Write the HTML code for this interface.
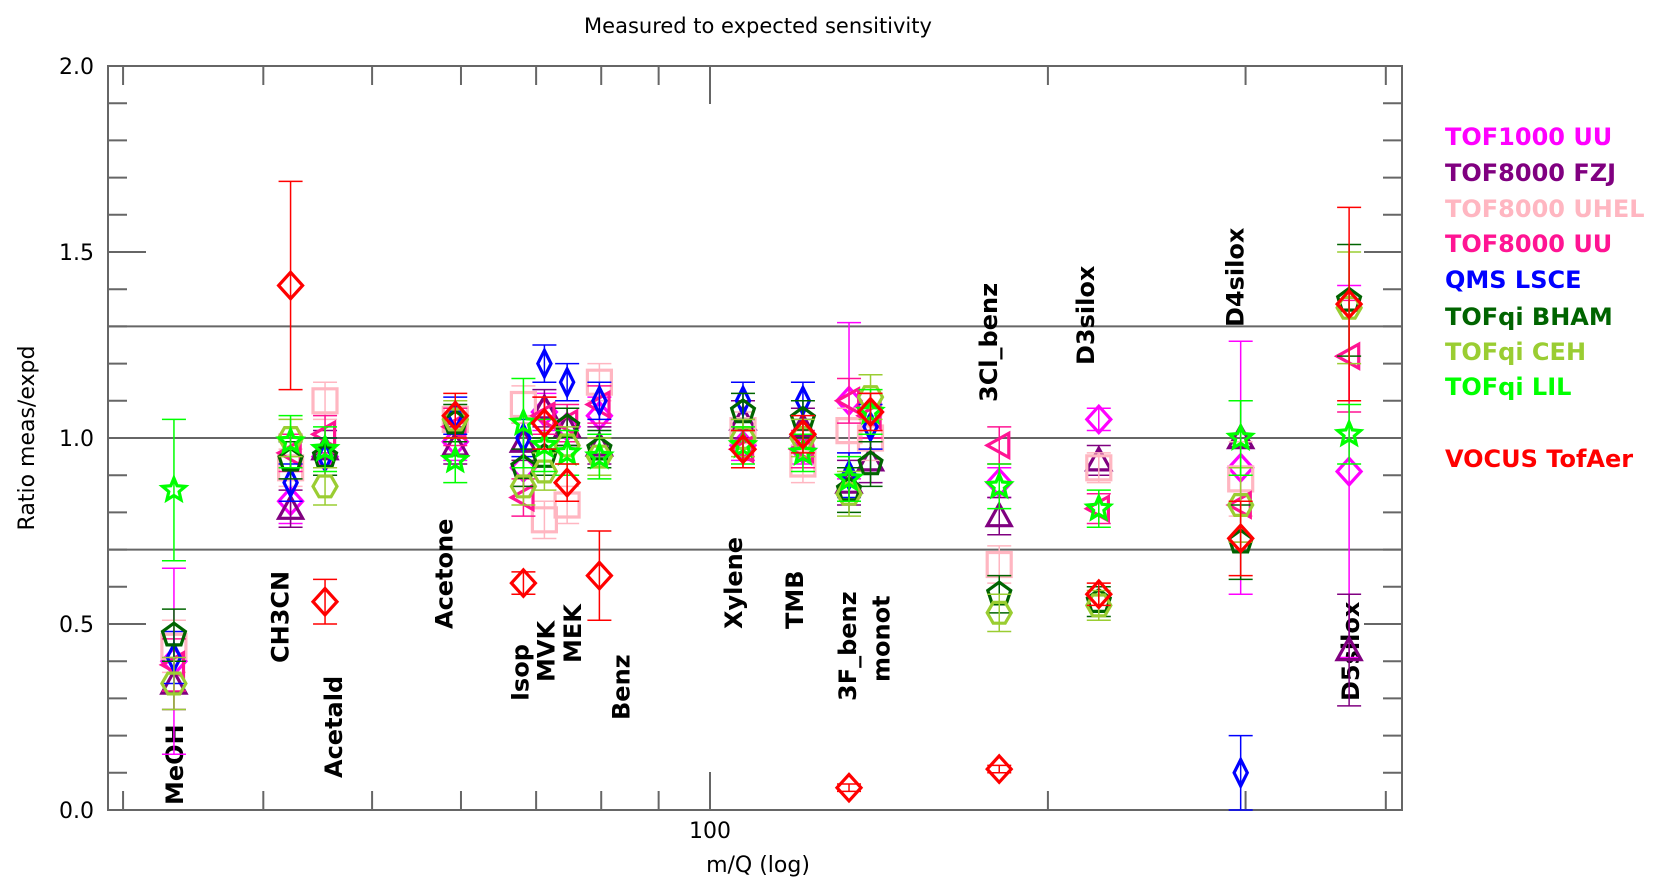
<!DOCTYPE html>
<html><head><meta charset="utf-8"><style>
html,body{margin:0;padding:0;background:#fff;}
svg{display:block;font-family:"DejaVu Sans","Liberation Sans",sans-serif;}
</style></head><body>
<svg id="chart" width="1663" height="888" viewBox="0 0 1663 888" xmlns="http://www.w3.org/2000/svg">
<text x="758" y="33" text-anchor="middle" font-size="21">Measured to expected sensitivity</text>
<g id="axes"></g>
<g id="labels"></g>
<g id="marks"></g>
<g id="legend"></g>
<text transform="translate(34,438) rotate(-90)" text-anchor="middle" font-size="22">Ratio meas/expd</text>
<text x="758" y="872" text-anchor="middle" font-size="22">m/Q (log)</text>
</svg>
<script>
const compounds=["MeOH","CH3CN","Acetald","Acetone","Isop","MVK","MEK","Benz","Xylene","TMB","3F_benz","monot","3Cl_benz","D3silox","D4silox","D5silox"];
const massQ=[33.3,42.3,45.4,59.3,68.2,71.2,74.6,79.7,107,121,133,139,181,222,297,371];
const seriesNames=["TOF1000 UU","TOF8000 FZJ","TOF8000 UHEL","TOF8000 UU","QMS LSCE","TOFqi BHAM","TOFqi CEH","TOFqi LIL","VOCUS TofAer"];
const tof1000UU=[0.40,0.83,0.95,0.99,0.92,1.07,1.03,1.06,0.98,0.97,1.10,1.07,0.88,1.05,0.92,0.91];
const tof8000FZJ=[0.34,0.81,0.97,0.98,0.99,1.08,1.03,0.98,1.05,1.03,0.88,0.94,0.79,0.94,1.00,0.43];
const tof8000UHEL=[0.44,0.92,1.10,1.05,1.09,0.78,0.82,1.15,1.02,0.93,1.02,1.00,0.66,0.92,0.89,null];
const tof8000UU=[0.39,0.96,1.01,1.03,0.84,1.06,1.04,1.09,0.97,0.97,1.10,1.06,0.98,0.81,0.82,1.22];
const qmsLSCE=[0.41,0.88,0.95,1.06,1.00,1.20,1.15,1.10,1.10,1.10,0.90,1.03,null,null,0.10,null];
const tofqiBHAM=[0.47,0.94,0.95,1.04,0.92,0.95,1.03,0.97,1.07,1.05,0.86,0.93,0.58,0.56,0.72,1.37];
const tofqiCEH=[0.34,1.00,0.87,1.05,0.87,0.91,0.98,0.95,1.00,1.00,0.85,1.11,0.53,0.55,0.82,1.35];
const tofqiLIL=[0.86,0.99,0.97,0.94,1.04,0.98,0.96,0.95,0.98,0.96,0.89,1.07,0.87,0.81,1.00,1.01];
const vocus=[null,1.41,0.56,1.06,0.61,1.04,0.88,0.63,0.97,1.01,0.06,1.07,0.11,0.58,0.73,1.36];
const errTof1000UU=[0.25,0.06,0.05,0.05,0.05,0.05,0.05,0.05,0.04,0.04,0.21,0.05,0.04,0.03,0.34,0.50];
const errVocus=[0,0.28,0.06,0.06,0.03,0.07,0.05,0.12,0.05,0.05,0.01,0.05,0.01,0.03,0.10,0.26];
const errOther=[0.07,0.05,0.05,0.05,0.05,0.05,0.05,0.05,0.05,0.05,0.06,0.06,0.05,0.04,0.1,0.15];
const errLIL=[0.19,0.07,0.06,0.06,0.12,0.07,0.06,0.06,0.05,0.05,0.06,0.06,0.06,0.05,0.10,0.08];
const yTicks=[0,0.5,1.0,1.5,2.0];
const xMinorTicks=[30,40,50,60,70,80,90,200,300,400];

const NS="http://www.w3.org/2000/svg";
const X0=108,X1=1402,Y0=810,Y1=66;
function xs(m){return 710+1122.5*(Math.log10(m)-2);}
function ys(v){return Y0-372*v;}
function el(tag,attrs,parent){const e=document.createElementNS(NS,tag);for(const k in attrs)e.setAttribute(k,attrs[k]);parent.appendChild(e);return e;}
const axes=document.getElementById('axes');
const gray="#666";
// frame
const fr=el('rect',{x:X0,y:Y1,width:X1-X0,height:Y0-Y1,fill:'none',stroke:gray,'stroke-width':2},axes);


// ref lines
[0.7,1.0,1.3].forEach(v=>{const l=el('line',{x1:X0,x2:X1,y1:ys(v),y2:ys(v),stroke:gray,'stroke-width':2},axes);

});
// y ticks
for(let i=0;i<=20;i++){const v=i/10;const major=(i%5===0);const len=major?38:19;
 el('line',{x1:X0,x2:X0+len,y1:ys(v),y2:ys(v),stroke:gray,'stroke-width':2},axes);
 el('line',{x1:X1-len,x2:X1,y1:ys(v),y2:ys(v),stroke:gray,'stroke-width':2},axes);}
yTicks.forEach(v=>{const t=el('text',{x:94,y:ys(v)+8,'text-anchor':'end','font-size':22},axes);t.textContent=v.toFixed(1);

});
// x ticks
xMinorTicks.forEach(m=>{el('line',{x1:xs(m),x2:xs(m),y1:Y0,y2:Y0-19,stroke:gray,'stroke-width':2},axes);
 el('line',{x1:xs(m),x2:xs(m),y1:Y1,y2:Y1+19,stroke:gray,'stroke-width':2},axes);});
el('line',{x1:xs(100),x2:xs(100),y1:Y0,y2:Y0-38,stroke:gray,'stroke-width':2},axes);
el('line',{x1:xs(100),x2:xs(100),y1:Y1,y2:Y1+38,stroke:gray,'stroke-width':2},axes);
const xl=el('text',{x:xs(100),y:838,'text-anchor':'middle','font-size':22},axes);xl.textContent="100";



// compound labels (bottom y in displayed-px estimates scaled)
const labelBottom=[805,663,778,629,701,682,663,720,629,629,701,682,402,365,327,701];
const labelDx=[0,-11,8,-12,-4,1,5,21,-10,-9,-2,10,-11,-14,-6,1];
const lg=document.getElementById('labels');
compounds.forEach((c,i)=>{const x=xs(massQ[i])+labelDx[i]+9;const t=el('text',{transform:`translate(${x},${labelBottom[i]}) rotate(-90)`,'font-size':24,'font-weight':'bold'},lg);t.textContent=c;

});

// markers
const colors=["#ff00ff","#800080","#ffb6c1","#ff1493","#0000ff","#006400","#9acd32","#00ff00","#ff0000"];
const data=[tof1000UU,tof8000FZJ,tof8000UHEL,tof8000UU,qmsLSCE,tofqiBHAM,tofqiCEH,tofqiLIL,vocus];
const errs=[errTof1000UU,errOther,errOther,errOther,errOther,errOther,errOther,errLIL,errVocus];
const shapes=["diamond","triangle","square","ltriangle","thindiamond","pentagon","hexagon","star","diamond"];
function shapePts(s,x,y){const r=12;let p=[];
 if(s==="diamond")p=[[0,-r*1.1],[r,0],[0,r*1.1],[-r,0]];
 else if(s==="thindiamond")p=[[0,-r*1.1],[r*0.55,0],[0,r*1.1],[-r*0.55,0]];
 else if(s==="square")p=[[-r,-r],[r,-r],[r,r],[-r,r]];
 else if(s==="triangle")p=[[0,-r],[r,r*0.8],[-r,r*0.8]];
 else if(s==="ltriangle")p=[[-r,0],[r*0.8,-r],[r*0.8,r]];
 else if(s==="pentagon"){for(let k=0;k<5;k++){const a=-Math.PI/2+k*2*Math.PI/5;p.push([r*Math.cos(a),r*Math.sin(a)]);}}
 else if(s==="hexagon"){for(let k=0;k<6;k++){const a=k*Math.PI/3;p.push([r*Math.cos(a),r*Math.sin(a)]);}}
 else if(s==="star"){for(let k=0;k<10;k++){const a=-Math.PI/2+k*Math.PI/5;const rr=k%2?r*0.45:r;p.push([rr*Math.cos(a),rr*Math.sin(a)]);}}
 return p.map(q=>(x+q[0]).toFixed(1)+","+(y+q[1]).toFixed(1)).join(" ");}
const mg=document.getElementById('marks');
data.forEach((arr,si)=>{arr.forEach((v,i)=>{if(v===null)return;const x=xs(massQ[i]);const y=ys(v);const e=errs[si][i];
 if(e>0){const g=el('g',{stroke:colors[si],'stroke-width':1.5},mg);
  
  
  el('line',{x1:x,x2:x,y1:ys(v-e),y2:ys(v+e)},g);
  el('line',{x1:x-12,x2:x+12,y1:ys(v-e),y2:ys(v-e)},g);
  el('line',{x1:x-12,x2:x+12,y1:ys(v+e),y2:ys(v+e)},g);}
 const m=el('polygon',{points:shapePts(shapes[si],x,y),fill:'none',stroke:colors[si],'stroke-width':3.2},mg);
 
 });});

// legend
const legY=[136,172,208,243,279,316,351,386,458];
const lgd=document.getElementById('legend');
seriesNames.forEach((n,i)=>{const t=el('text',{x:1445,y:legY[i]+9,'font-size':24,'font-weight':'bold',fill:colors[i]},lgd);t.textContent=n;

});
</script>
</body></html>
